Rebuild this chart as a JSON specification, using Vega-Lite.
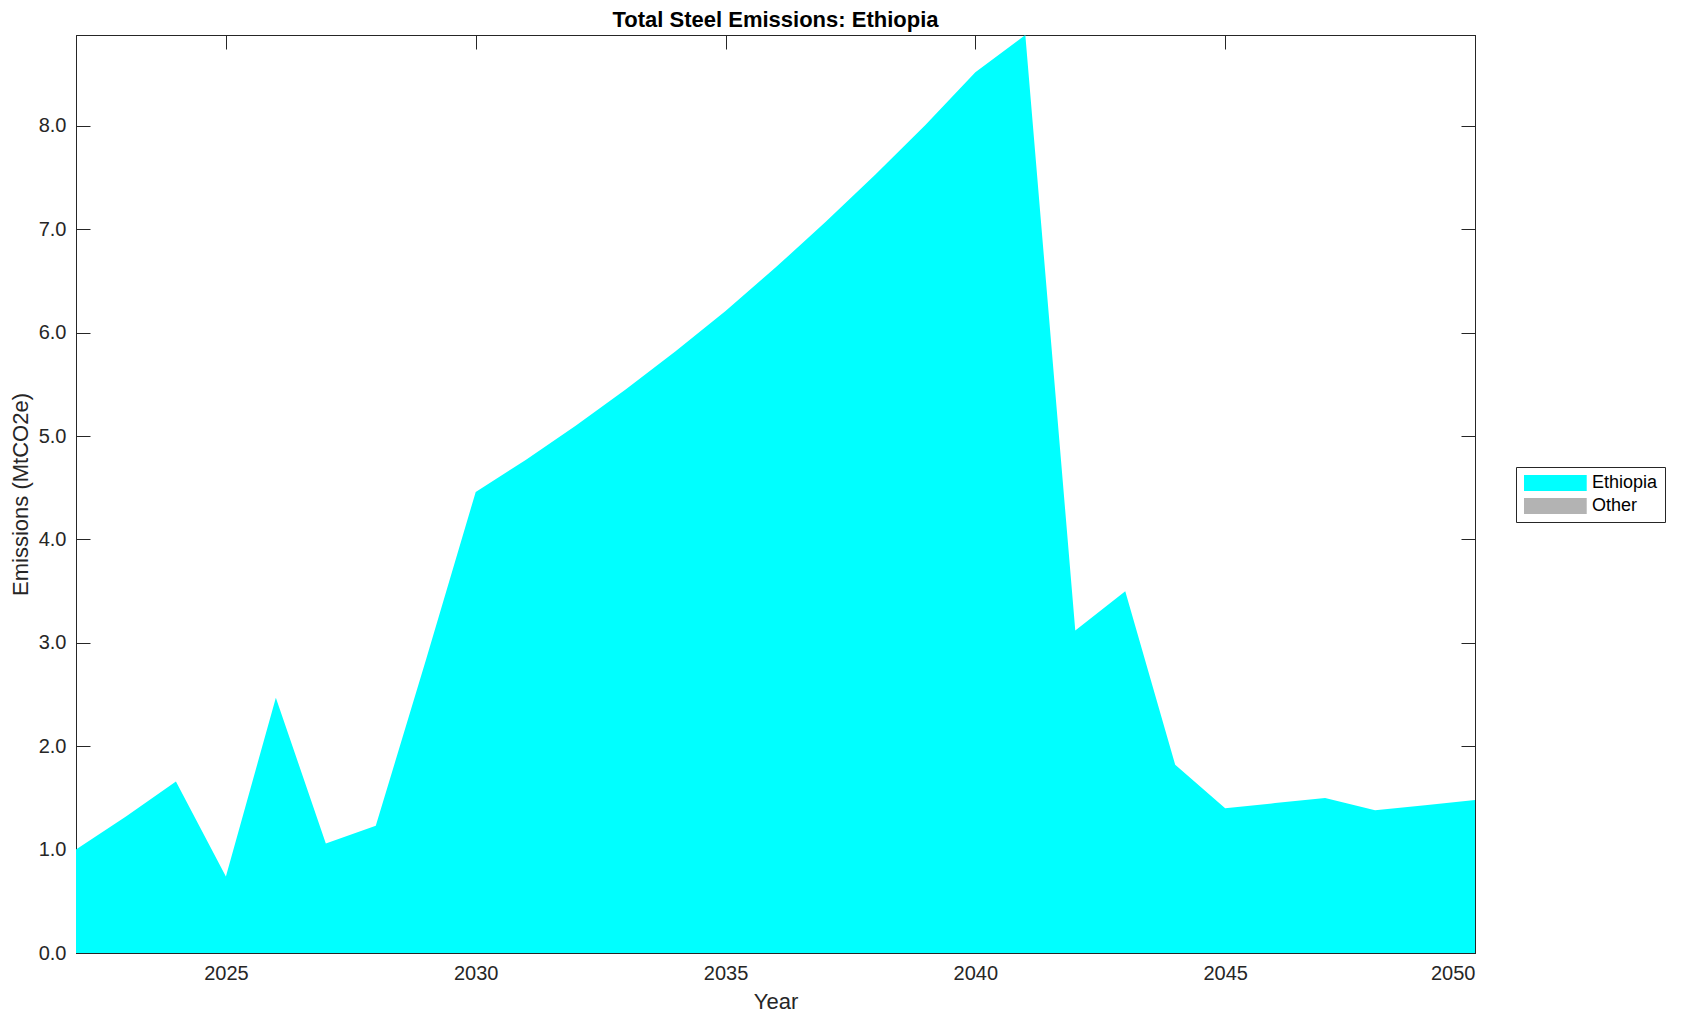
{
  "$schema": "https://vega.github.io/schema/vega-lite/v6.json",
  "width": 1399,
  "height": 918,
  "autosize": {"type": "none"},
  "padding": {"left": 76, "top": 35, "right": 206, "bottom": 68},
  "background": "white",
  "title": {"text": "Total Steel Emissions: Ethiopia", "font": "Liberation Sans", "fontSize": 22, "fontWeight": "bold", "color": "black", "anchor": "middle", "offset": 0},
  "config": {
    "view": {"stroke": "#262626", "strokeWidth": 1},
    "axis": {"grid": false, "labelFont": "Liberation Sans", "titleFont": "Liberation Sans", "labelFontSize": 20, "titleFontSize": 22, "labelColor": "#262626", "titleColor": "#262626", "titleFontWeight": "normal", "domainColor": "#262626", "tickColor": "#262626", "tickSize": -14, "tickWidth": 1}
  },
  "data": {"values": [
    {"year": 2022, "emissions": 1.00, "region": "Ethiopia"},
    {"year": 2023, "emissions": 1.32, "region": "Ethiopia"},
    {"year": 2024, "emissions": 1.66, "region": "Ethiopia"},
    {"year": 2025, "emissions": 0.74, "region": "Ethiopia"},
    {"year": 2026, "emissions": 2.47, "region": "Ethiopia"},
    {"year": 2027, "emissions": 1.06, "region": "Ethiopia"},
    {"year": 2028, "emissions": 1.23, "region": "Ethiopia"},
    {"year": 2029, "emissions": 2.83, "region": "Ethiopia"},
    {"year": 2030, "emissions": 4.46, "region": "Ethiopia"},
    {"year": 2031, "emissions": 4.77, "region": "Ethiopia"},
    {"year": 2032, "emissions": 5.10, "region": "Ethiopia"},
    {"year": 2033, "emissions": 5.45, "region": "Ethiopia"},
    {"year": 2034, "emissions": 5.82, "region": "Ethiopia"},
    {"year": 2035, "emissions": 6.21, "region": "Ethiopia"},
    {"year": 2036, "emissions": 6.63, "region": "Ethiopia"},
    {"year": 2037, "emissions": 7.07, "region": "Ethiopia"},
    {"year": 2038, "emissions": 7.53, "region": "Ethiopia"},
    {"year": 2039, "emissions": 8.01, "region": "Ethiopia"},
    {"year": 2040, "emissions": 8.52, "region": "Ethiopia"},
    {"year": 2041, "emissions": 8.88, "region": "Ethiopia"},
    {"year": 2042, "emissions": 3.12, "region": "Ethiopia"},
    {"year": 2043, "emissions": 3.50, "region": "Ethiopia"},
    {"year": 2044, "emissions": 1.82, "region": "Ethiopia"},
    {"year": 2045, "emissions": 1.40, "region": "Ethiopia"},
    {"year": 2046, "emissions": 1.45, "region": "Ethiopia"},
    {"year": 2047, "emissions": 1.50, "region": "Ethiopia"},
    {"year": 2048, "emissions": 1.38, "region": "Ethiopia"},
    {"year": 2049, "emissions": 1.43, "region": "Ethiopia"},
    {"year": 2050, "emissions": 1.48, "region": "Ethiopia"}
  ]},
  "layer": [
    {
      "mark": {"type": "area", "interpolate": "linear", "strokeWidth": 0},
      "encoding": {
        "x": {"field": "year", "type": "quantitative", "scale": {"domain": [2022, 2050], "nice": false, "zero": false},
              "axis": {"orient": "bottom", "title": "Year", "values": [2025, 2030, 2035, 2040, 2045, 2050], "format": "d", "labelPadding": 24, "titlePadding": 8}},
        "y": {"field": "emissions", "type": "quantitative", "scale": {"domain": [0, 8.88], "nice": false},
              "axis": {"orient": "left", "title": "Emissions (MtCO2e)", "values": [0, 1, 2, 3, 4, 5, 6, 7, 8], "format": ".1f", "labelPadding": 24, "titlePadding": 6}},
        "color": {"field": "region", "type": "nominal",
                  "scale": {"domain": ["Ethiopia", "Other"], "range": ["#00ffff", "#b3b3b3"]},
                  "legend": {"title": null, "orient": "none", "legendX": 1440, "legendY": 432, "strokeColor": "#262626", "fillColor": "white", "padding": 7,
                             "symbolType": "M-1,-1H6.84V1H-1Z", "symbolSize": 256, "symbolStrokeWidth": 0, "symbolOpacity": 1,
                             "labelFont": "Liberation Sans", "labelFontSize": 18, "labelColor": "black", "labelOffset": 51, "rowPadding": 5}}
      }
    },
    {
      "mark": {"type": "point", "opacity": 0},
      "encoding": {
        "x": {"field": "year", "type": "quantitative", "axis": {"orient": "top", "title": null, "values": [2025, 2030, 2035, 2040, 2045, 2050], "labels": false}},
        "y": {"field": "emissions", "type": "quantitative", "axis": {"orient": "right", "title": null, "values": [0, 1, 2, 3, 4, 5, 6, 7, 8], "labels": false}}
      }
    }
  ],
  "resolve": {"axis": {"x": "independent", "y": "independent"}}
}
